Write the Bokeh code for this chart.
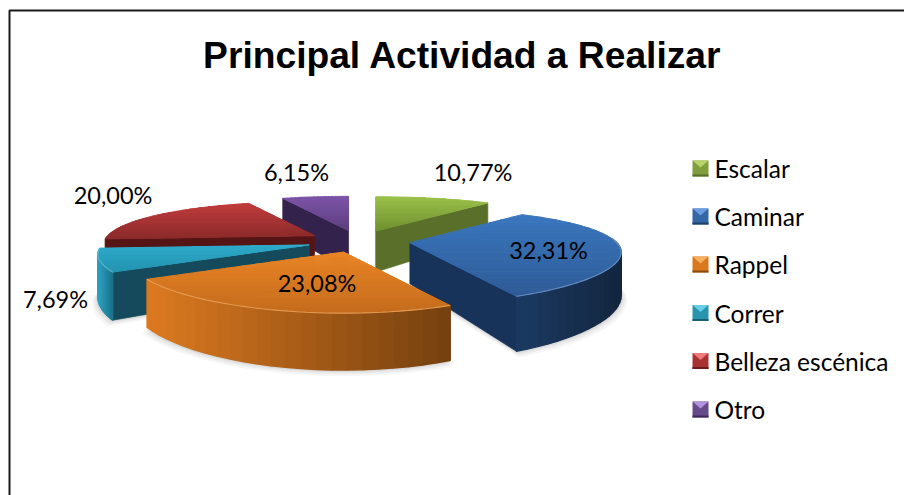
import math
from bokeh.plotting import figure
from bokeh.embed import file_html
from bokeh.resources import INLINE
from bokeh.models import Range1d
from bokeh.core.properties import value

TITLE = "Principal Actividad a Realizar"
categories = ["Escalar", "Caminar", "Rappel", "Correr", "Belleza escénica", "Otro"]
percent = [10.77, 32.31, 23.08, 7.69, 20.00, 6.15]
labels = ["10,77%", "32,31%", "23,08%", "7,69%", "20,00%", "6,15%"]

top_hi = ["#9cc24a", "#3b77bf", "#ea8526", "#2fabcb", "#c23c3c", "#7d55a8"]
top_lo = ["#6f9030", "#2e5b96", "#c46c1d", "#2494b2", "#8b2a2a", "#5c3f80"]
cut_col = ["#5a702a", "#17335a", "#7a4312", "#154a5c", "#561515", "#33234c"]
rim_a = ["#5a702a", "#1b3a62", "#dc7a20", "#2da0bf", "#561515", "#33234c"]
rim_b = ["#5a702a", "#13263f", "#74400f", "#1a6f88", "#561515", "#33234c"]
leg_base = ["#7f9f3c", "#3467a6", "#d9781f", "#2a93ad", "#a83232", "#664a8c"]
leg_light = ["#b5d36a", "#6a9ce0", "#f6b060", "#66cfe6", "#ee7a7a", "#b294dc"]
leg_dark = ["#55702a", "#1f3f6c", "#8a4c12", "#1a6075", "#6a1c1c", "#3e2a5c"]

# projection of the pie onto the page
CX, CY, A, B, KX, KY, EXPLODE, H = 358, 241, 207, 44, 0.2, 0.28, 0.25, 41


def mix(c1, c2, t):
    a = [int(c1[i:i + 2], 16) for i in (1, 3, 5)]
    b = [int(c2[i:i + 2], 16) for i in (1, 3, 5)]
    return "#%02x%02x%02x" % tuple(round(u + (v - u) * t) for u, v in zip(a, b))


angles = []
acc = 0.0
total = sum(percent)
for v in percent:
    angles.append((acc, acc + v / total * 360))
    acc += v / total * 360


def apex(i):
    m = math.radians(sum(angles[i]) / 2)
    return CX + A * EXPLODE * math.sin(m), CY - B * EXPLODE * math.cos(m)


def rim_pt(i, deg):
    ax, ay = apex(i)
    th = math.radians(deg)
    sx = 1 / (1 + KX * math.cos(th))
    sy = 1 / (1 + KY * math.cos(th))
    return ax + A * math.sin(th) * sx, ay - B * math.cos(th) * sy, sy


def arc(i, d0, d1, n=48):
    return [d0 + (d1 - d0) * j / n for j in range(n + 1)]


def clip_band(poly, y0, y1):
    def half(pts, keep, cross):
        out = []
        for j, p in enumerate(pts):
            q = pts[(j + 1) % len(pts)]
            if keep(p):
                out.append(p)
            if keep(p) != keep(q):
                t = (cross - p[1]) / (q[1] - p[1])
                out.append((p[0] + (q[0] - p[0]) * t, cross))
        return out
    pts = half(poly, lambda p: p[1] >= y0, y0)
    if pts:
        pts = half(pts, lambda p: p[1] <= y1, y1)
    return pts


p = figure(width=904, height=495, output_backend="svg", toolbar_location=None,
           x_range=Range1d(0, 904), y_range=Range1d(495, 0), min_border=0)
p.axis.visible = False
p.grid.visible = False
p.outline_line_color = None
p.background_fill_color = "#ffffff"


def poly(xs, ys, color, alpha=1.0, lw=0.7):
    p.patch(xs, ys, fill_color=color, line_color=color if lw else None,
            line_width=lw or 1, fill_alpha=alpha, line_alpha=alpha)


def shadow(i, d0, d1):
    ax, ay = apex(i)
    ds = arc(i, d0, d1)
    pts = [rim_pt(i, d) for d in ds]
    for grow, alpha in ((6, 0.05), (4, 0.07), (2, 0.10)):
        xs = [q[0] + grow * math.sin(math.radians(d)) for q, d in zip(pts, ds)]
        ys = [q[1] + H * q[2] + grow for q in pts]
        poly(xs + [ax], ys + [ay + H + grow], "#555555", alpha, 0)


def draw_slice(i, cut_deg=None, rim_span=None):
    ax, ay = apex(i)
    d0, d1 = angles[i]
    if rim_span:
        shadow(i, *rim_span)
    if cut_deg is not None:
        x, y, s = rim_pt(i, cut_deg)
        poly([ax, x, x, ax], [ay, y, y + H * s, ay + H], cut_col[i])
    if rim_span:
        ds = arc(i, rim_span[0], rim_span[1], 24)
        xmin = min(rim_pt(i, d)[0] for d in ds)
        xmax = max(rim_pt(i, d)[0] for d in ds)
        for j in range(len(ds) - 1):
            x0, y0, s0 = rim_pt(i, ds[j])
            x1, y1, s1 = rim_pt(i, ds[j + 1])
            t = ((x0 + x1) / 2 - xmin) / max(xmax - xmin, 1)
            poly([x0, x1, x1, x0], [y0, y1, y1 + H * s1, y0 + H * s0],
                 mix(rim_a[i], rim_b[i], t), 1, 1.4)
    outline = [(ax, ay)] + [rim_pt(i, d)[:2] for d in arc(i, d0, d1)]
    ymin = min(q[1] for q in outline)
    ymax = max(q[1] for q in outline)
    n = 30
    for j in range(n):
        y0 = ymin + (ymax - ymin) * j / n
        y1 = ymin + (ymax - ymin) * (j + 1) / n
        band = clip_band(outline, y0, y1)
        if band:
            poly([q[0] for q in band], [q[1] for q in band], mix(top_hi[i], top_lo[i], (j + .5) / n), 1, 1)
    if rim_span:
        ds = arc(i, rim_span[0], rim_span[1], 40)
        p.line([rim_pt(i, d)[0] for d in ds], [rim_pt(i, d)[1] for d in ds],
               line_color=mix(top_hi[i], "#ffffff", 0.3), line_width=1.2, line_alpha=0.7)


# back to front
draw_slice(5, cut_deg=angles[5][0])
draw_slice(0, cut_deg=angles[0][1])
draw_slice(4, cut_deg=angles[4][0])
draw_slice(3, cut_deg=angles[3][0], rim_span=(angles[3][0], angles[3][1]))
draw_slice(1, cut_deg=angles[1][1], rim_span=(85, angles[1][1]))
draw_slice(2, rim_span=(angles[2][0], angles[2][1]))

# frame of the picture: only top and left are in view
p.line([9, 9, 904], [495, 10, 10], line_color="#1a1a1a", line_width=2)

p.text([462], [54.5], text=[TITLE], text_font=value("Liberation Sans"), text_font_style="bold",
       text_font_size="37.2px", text_align="center", text_baseline="middle", text_color="#000000")

label_x = [472.5, 548, 316.5, 55, 112.5, 296]
label_y = [171, 249, 282, 298, 194, 171]
p.text(label_x, label_y, text=labels, text_font=value("Lato"), text_font_size="23.5px",
       text_align="center", text_baseline="middle", text_color="#000000")

leg_y = [168, 216, 264, 312.5, 360.5, 409]
for i, y in enumerate(leg_y):
    x0, x1, y0, y1 = 692, 708, y - 8, y + 8
    poly([x0, x1, x1, x0], [y0, y0, y1, y1], leg_base[i], 1, 0)
    poly([x0, x1, (x0 + x1) / 2], [y0, y0, y0 + 7], leg_light[i], 1, 0)
    poly([x0, x1, x1, x0], [y1 - 2, y1 - 2, y1, y1], leg_dark[i], 1, 0)

p.text([714] * 6, leg_y, text=categories, text_font=value("Lato"), text_font_size="24.5px",
       text_align="left", text_baseline="middle", text_color="#000000")

open("out.html", "w").write(file_html(p, INLINE))
